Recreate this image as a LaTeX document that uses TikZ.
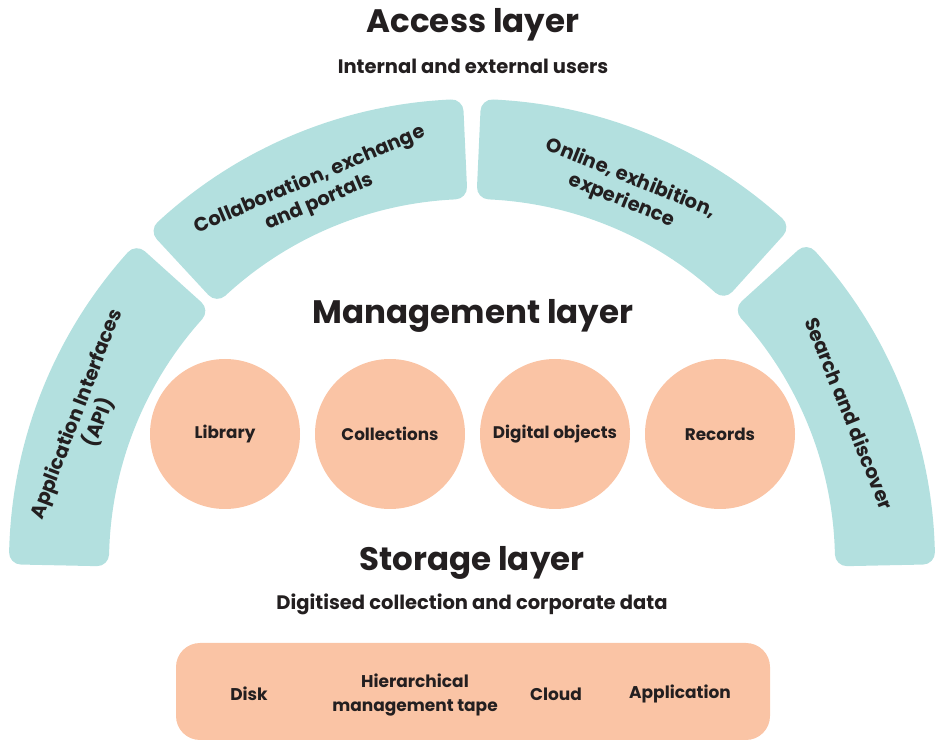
\documentclass[tikz,border=0pt]{standalone}
\usepackage{fontspec}
\setmainfont{Poppins}
\usetikzlibrary{calc}
\definecolor{teal}{HTML}{B3E0DF}
\definecolor{peach}{HTML}{FAC4A5}
\definecolor{ink}{HTML}{231F20}
\begin{document}
\begin{tikzpicture}[x=1pt,y=1pt,
  every node/.style={text=ink,font=\bfseries},
  title/.style={font=\bfseries\fontsize{32.5}{40}\selectfont},
  subtitle/.style={font=\bfseries\fontsize{19.5}{24}\selectfont},
  bandtext/.style={font=\bfseries\fontsize{19.5}{24}\selectfont,align=center},
  blob/.style={circle,fill=peach,minimum size=150pt,inner sep=0pt,font=\bfseries\fontsize{16.8}{20}\selectfont},
  storetext/.style={font=\bfseries\fontsize{17}{23.5}\selectfont,align=center},
  band/.style={fill=teal,draw=teal,line width=24pt,line join=round}
]
\useasboundingbox (0,0) rectangle (943,742);
\coordinate (C) at (472,180);
% band segments: radius 363..463, inset 12
\newcommand{\bandseg}[2]{%
  \path[band] ($(C)+(#1:451)$) arc[start angle=#1,end angle=#2,radius=451]
    -- ($(C)+(#2:375)$) arc[start angle=#2,end angle=#1,radius=375] -- cycle;}
\bandseg{178.8}{138.0}
\bandseg{132.8}{92.6}
\bandseg{87.4}{47.9}
\bandseg{42.2}{1.2}

\node[bandtext,rotate=69] (api) at ($(C)+(159.5:410)$) {Application Interfaces\\(API)};
\node[bandtext,rotate=23] (collab) at ($(C)+(113:403)$) {Collaboration, exchange\\and portals};
\node[bandtext,rotate=-22] (online) at ($(C)+(67.5:403)$) {Online, exhibition,\\experience};
\node[bandtext,rotate=-68] (search) at ($(C)+(21.5:406)$) {Search and discover};

\node[title] (access) at (473,717) {Access layer};
\node[subtitle] (users) at (473,676) {Internal and external users};
\node[title] (mgmt) at (473,426) {Management layer};
\node[title] (storage) at (472,179) {Storage layer};
\node[subtitle] (digit) at (472,138) {Digitised collection and corporate data};

\node[blob] (lib) at (225,308) {Library};
\node[blob] (coll) at (390,308) {Collections};
\node[blob] (dig) at (555,308) {Digital objects};
\node[blob] (rec) at (720,308) {Records};

\node[fill=peach,rounded corners=24pt,minimum width=594pt,minimum height=97pt] (store) at (473,50.5) {};
\node[storetext] (disk) at (249,48) {Disk};
\node[storetext] (hsm) at (415,47) {Hierarchical\\management tape};
\node[storetext] (cloud) at (556,48) {Cloud};
\node[storetext] (app) at (680,48) {Application};
\end{tikzpicture}
\end{document}
